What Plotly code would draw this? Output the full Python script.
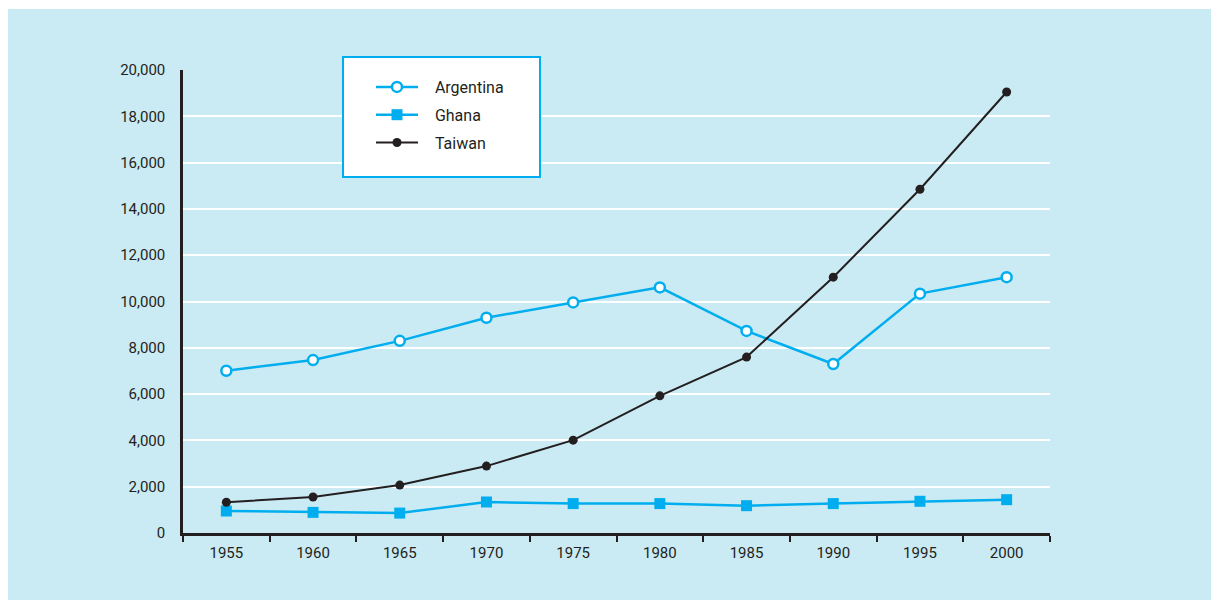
import plotly.graph_objects as go

years = ["1955", "1960", "1965", "1970", "1975", "1980", "1985", "1990", "1995", "2000"]
argentina = [7010, 7470, 8300, 9300, 9960, 10610, 8730, 7300, 10340, 11050]
ghana = [950, 890, 860, 1340, 1270, 1270, 1180, 1270, 1370, 1440]
taiwan = [1330, 1555, 2070, 2890, 4010, 5925, 7600, 11050, 14850, 19050]
y_ticks = [0, 2000, 4000, 6000, 8000, 10000, 12000, 14000, 16000, 18000, 20000]

CYAN = "#00aeef"
DARK = "#231f20"
BG = "#cbebf4"
FONT = "Roboto, Arial, sans-serif"
PADNAME = "\u00a0\u00a0\u00a0"

fig = go.Figure()
fig.add_trace(go.Scatter(
    x=years, y=argentina, name=PADNAME + "Argentina", mode="lines+markers", legendgroup="a",
    line=dict(color=CYAN, width=2.5),
    marker=dict(symbol="circle", size=10, color="white", line=dict(color=CYAN, width=2.5)),
))
fig.add_trace(go.Scatter(
    x=years, y=ghana, name=PADNAME + "Ghana", mode="lines+markers", legendgroup="g",
    line=dict(color=CYAN, width=2.5),
    marker=dict(symbol="square", size=11, color=CYAN),
))
fig.add_trace(go.Scatter(
    x=years, y=taiwan, name=PADNAME + "Taiwan", mode="lines+markers", legendgroup="t",
    line=dict(color=DARK, width=2),
    marker=dict(symbol="circle", size=9, color=DARK),
))

# page body adds an 8px offset; work in screen pixels minus that offset
OFF = 8
L, R, T, B = 183 - OFF, 1050 - OFF, 70 - OFF, 533 - OFF
W, H = 1219 - OFF, 600 - OFF
pw, ph = R - L, B - T

def px(x):
    return (x - OFF - L) / pw

def py(y):
    return (B - (y - OFF)) / ph

shapes = [
    dict(type="rect", xref="paper", yref="paper", x0=px(7), x1=px(1300), y0=py(700), y1=py(9),
         fillcolor=BG, line=dict(width=0), layer="below"),
    dict(type="rect", xref="paper", yref="paper", x0=px(343), x1=px(540), y0=py(177), y1=py(57),
         fillcolor="white", line=dict(color=CYAN, width=2), layer="above"),
]

fig.update_layout(
    width=W, height=H,
    margin=dict(l=L, r=W - R, t=T, b=H - B, pad=0),
    paper_bgcolor="white",
    plot_bgcolor=BG,
    font=dict(family=FONT, size=15, color=DARK),
    shapes=shapes,
    showlegend=True,
    legend=dict(
        x=px(371), y=py(70), xanchor="left", yanchor="top",
        bgcolor="rgba(0,0,0,0)", borderwidth=0,
        tracegroupgap=4, itemwidth=42,
        font=dict(family=FONT, size=16, color=DARK),
    ),
    xaxis=dict(
        type="category", tickson="boundaries", ticks="outside", ticklen=6, tickwidth=2,
        tickcolor=DARK, showline=True, linecolor=DARK, linewidth=2.5, showgrid=False,
        ticklabelstandoff=4,
        tickfont=dict(family=FONT, size=15, color=DARK), range=[-0.5, 9.5],
    ),
    yaxis=dict(
        range=[0, 20000], tickvals=y_ticks, tickformat=",", showline=True, linecolor=DARK,
        linewidth=2.5, showgrid=True, gridcolor="white", gridwidth=2, zeroline=False,
        ticks="outside", ticklen=12, tickcolor="rgba(0,0,0,0)",
        tickfont=dict(family=FONT, size=15, color=DARK),
    ),
)

fig.write_html("out.html")
